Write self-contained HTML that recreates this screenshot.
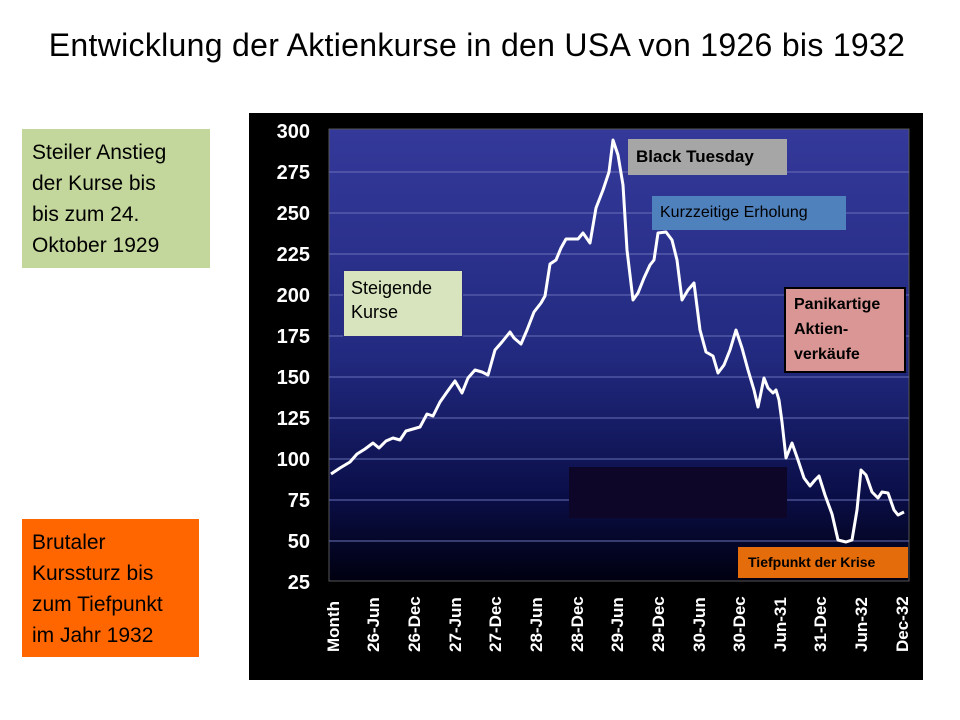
<!DOCTYPE html>
<html><head><meta charset="utf-8"><style>
body{margin:0;width:960px;height:720px;background:#fff;position:relative;overflow:hidden;font-family:"Liberation Sans",sans-serif}
.t{position:absolute;left:0;width:954px;top:27px;text-align:center;font-size:32px;letter-spacing:0.3px;color:#000;white-space:nowrap}
.box{position:absolute;box-sizing:border-box;color:#000}
</style></head><body>
<div class="t">Entwicklung der Aktienkurse in den USA von 1926 bis 1932</div>
<div class="box" style="left:22px;top:129px;width:188px;height:139px;background:#c3d69b;font-size:21px;line-height:31px;padding:8px 10px;white-space:nowrap">Steiler Anstieg<br>der Kurse bis<br>bis zum 24.<br>Oktober 1929</div>
<div class="box" style="left:22px;top:519px;width:177px;height:138px;background:#ff6600;font-size:21px;line-height:31px;padding:8px 10px;white-space:nowrap">Brutaler<br>Kurssturz bis<br>zum Tiefpunkt<br>im Jahr 1932</div>
<svg style="position:absolute;left:0;top:0" width="960" height="720">
<defs><linearGradient id="g" x1="0" y1="0" x2="0" y2="1">
<stop offset="0" stop-color="#34399a"/><stop offset="0.5" stop-color="#222a80"/><stop offset="0.8" stop-color="#0b0f4a"/><stop offset="1" stop-color="#000010"/></linearGradient></defs>
<rect x="249" y="113" width="674" height="567" fill="#000"/>
<rect x="329" y="129" width="580" height="452" fill="url(#g)" stroke="#555" stroke-width="1"/>
<g stroke="#6a70b8" stroke-width="1.2" opacity="0.8">
<line x1="329" x2="909" y1="172" y2="172"/><line x1="329" x2="909" y1="213" y2="213"/><line x1="329" x2="909" y1="254" y2="254"/><line x1="329" x2="909" y1="295" y2="295"/><line x1="329" x2="909" y1="336" y2="336"/><line x1="329" x2="909" y1="377" y2="377"/><line x1="329" x2="909" y1="418" y2="418"/><line x1="329" x2="909" y1="459" y2="459"/><line x1="329" x2="909" y1="500" y2="500"/><line x1="329" x2="909" y1="541" y2="541"/>
</g>
<g fill="#fff" font-weight="bold" font-size="20" text-anchor="end" font-family="Liberation Sans,sans-serif">
<text x="310" y="138">300</text><text x="310" y="179">275</text><text x="310" y="220">250</text><text x="310" y="261">225</text><text x="310" y="302">200</text><text x="310" y="343">175</text><text x="310" y="384">150</text><text x="310" y="425">125</text><text x="310" y="466">100</text><text x="310" y="507">75</text><text x="310" y="548">50</text><text x="310" y="589">25</text>
</g>
<g fill="#fff" font-weight="bold" font-size="17" text-anchor="start" font-family="Liberation Sans,sans-serif">
<text transform="translate(339,652) rotate(-90)">Month</text>
<text transform="translate(379,652) rotate(-90)">26-Jun</text>
<text transform="translate(420,652) rotate(-90)">26-Dec</text>
<text transform="translate(461,652) rotate(-90)">27-Jun</text>
<text transform="translate(501,652) rotate(-90)">27-Dec</text>
<text transform="translate(542,652) rotate(-90)">28-Jun</text>
<text transform="translate(583,652) rotate(-90)">28-Dec</text>
<text transform="translate(623,652) rotate(-90)">29-Jun</text>
<text transform="translate(664,652) rotate(-90)">29-Dec</text>
<text transform="translate(705,652) rotate(-90)">30-Jun</text>
<text transform="translate(745,652) rotate(-90)">30-Dec</text>
<text transform="translate(786,652) rotate(-90)">Jun-31</text>
<text transform="translate(826,652) rotate(-90)">31-Dec</text>
<text transform="translate(867,652) rotate(-90)">Jun-32</text>
<text transform="translate(908,652) rotate(-90)">Dec-32</text>
</g>
<polyline fill="none" stroke="#fff" stroke-width="3" stroke-linejoin="round" points="331,474 340,468 350,462 357,454 365,449 373,443 379,448 386,441 393,438 400,440 406,431 413,429 420,427 427,414 433,416 440,402 447,392 455,381 462,393 468,378 475,370 482,372 488,375 495,350 502,342 510,332 514,338 521,344 527,330 534,312 541,303 545,296 550,264 556,260 561,248 566,239 572,239 578,239 583,233 590,243 596,208 603,190 609,172 613,140 618,155 623,185 627,250 633,300 638,293 644,278 650,265 654,260 658,233 666,232 672,240 677,260 682,300 688,290 694,283 700,330 706,352 713,356 718,373 724,365 730,350 736,330 742,348 748,370 754,390 758,407 764,378 768,388 773,393 776,390 779,400 782,422 786,458 792,443 798,460 804,478 810,486 815,480 819,476 825,495 832,514 838,540 846,542 852,540 857,510 861,470 866,475 872,492 878,498 882,492 888,493 894,510 898,515 904,512"/>
<rect x="569" y="467" width="218" height="51" fill="#0e0628"/>
</svg>
<div class="box" style="left:343px;top:270px;width:120px;height:67px;background:#d7e4bd;border:1px solid #2a2a80;font-size:18px;line-height:24px;padding:5px 7px">Steigende Kurse</div>
<div class="box" style="left:628px;top:139px;width:159px;height:36px;background:#a6a6a6;font-size:17px;font-weight:bold;line-height:36px;padding-left:8px">Black Tuesday</div>
<div class="box" style="left:652px;top:196px;width:194px;height:34px;background:#4f81bd;font-size:16px;line-height:34px;padding-left:8px">Kurzzeitige Erholung</div>
<div class="box" style="left:784px;top:287px;width:122px;height:86px;background:#d99694;border:2px solid #000;font-size:16px;font-weight:bold;line-height:25px;padding:3px 8px">Panikartige Aktien-verkäufe</div>
<div class="box" style="left:738px;top:547px;width:170px;height:31px;background:#e46c0a;font-size:14px;font-weight:bold;line-height:31px;padding-left:10px">Tiefpunkt der Krise</div>
</body></html>
